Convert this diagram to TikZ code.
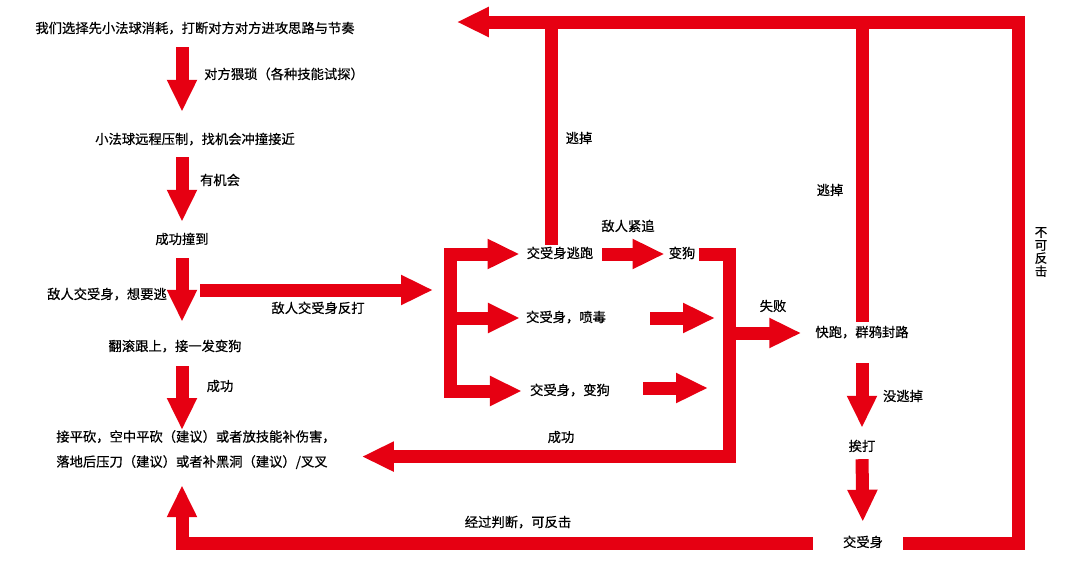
\documentclass[tikz,border=0pt]{standalone}
\usepackage{fontspec}
\setmainfont{Noto Sans CJK SC}[FakeBold=0.6]
\usetikzlibrary{arrows.meta}
\definecolor{flowred}{RGB}{230,0,18}

\begin{document}
\begin{tikzpicture}[x=1pt, y=-1pt, line join=miter,
    main node/.style={inner sep=0pt, font=\fontsize{13.3pt}{25pt}\selectfont, text height=10pt, text depth=2pt},
    block node/.style={inner sep=0pt, font=\fontsize{13.3pt}{25pt}\selectfont, align=left},
    fat line/.style={draw=flowred, line width=13pt},
    fat arrow/.style={fat line, -{Triangle[length=32pt,width=28pt]}}]

  \useasboundingbox (0,0) rectangle (1080,563);

  \node[main node] (1) at (195,29) {我们选择先小法球消耗，打断对方对方进攻思路与节奏};
  \node[main node] (2) at (195,140) {小法球远程压制，找机会冲撞接近};
  \node[main node] (3) at (182,240) {成功撞到};
  \node[main node] (4) at (107,295) {敌人交受身，想要逃};
  \node[main node] (5) at (175,347) {翻滚跟上，接一发变狗};
  \node[block node, anchor=north] (6) at (196,430) {接平砍，空中平砍（建议）或者放技能补伤害，\\落地后压刀（建议）或者补黑洞（建议）/叉叉};
  \node[main node] (7) at (560,254) {交受身逃跑};
  \node[main node] (8) at (566,318) {交受身，喷毒};
  \node[main node] (9) at (570,391) {交受身，变狗};
  \node[main node] (10) at (682,254) {变狗};
  \node[main node] (11) at (862,333) {快跑，群鸦封路};
  \node[main node] (12) at (862,447) {挨打};
  \node[main node] (13) at (863,543) {交受身};

  \coordinate (fork) at (450,290);
  \coordinate (join) at (729,333);
  \coordinate (corner) at (1018,22);

  % left column
  \draw[fat arrow, shorten <=12pt, shorten >=22pt] (3 |- 1.south) -- (3 |- 2.north);
  \draw[fat arrow, shorten <=11pt, shorten >=12pt] (3 |- 2.south) -- (3.north);
  \draw[fat arrow, shorten <=12pt, shorten >=19pt] (3.south) -- (3 |- 5.north);
  \draw[fat arrow, shorten <=13pt] (3 |- 5.south) -- (3 |- 6.north);
  \draw[fat arrow, shorten <=33pt, shorten >=17pt] (4.east |- fork) -- (fork);

  % fork
  \draw[fat line, line cap=rect] (fork |- 7) -- (fork |- 9);
  \draw[fat arrow, shorten >=7pt] (fork |- 7) -- (7.west);
  \draw[fat arrow, shorten >=6pt] (fork |- 8) -- (8.west);
  \draw[fat arrow, shorten >=8pt] (fork |- 9) -- (9.west);
  \draw[fat arrow, shorten <=9pt, shorten >=4pt] (7.east) -- (10.west);
  \draw[fat arrow, shorten <=44pt, shorten >=14pt] (8.east) -- (join |- 8);
  \draw[fat arrow, shorten <=33pt, shorten >=21pt] ([yshift=3pt]9.east) -- ([yshift=3pt]join |- 9);

  % join
  \draw[fat arrow, shorten <=3pt, shorten >=26pt] (10.east) -| ([yshift=-7pt]join |- 6.east) -- ([yshift=-7pt]6.east);
  \draw[fat arrow, shorten >=14pt] (join |- 11) -- (11.west);
  \draw[fat line, shorten <=5pt] (11.north) -- (11 |- corner);
  \draw[fat line, shorten <=3pt] ([xshift=-9pt]7.north) -- ([xshift=-9pt]7.north |- corner);

  % right column
  \draw[fat arrow, shorten <=24pt, shorten >=13pt] (11.south) -- (12.north);
  \draw[fat arrow, shorten <=6pt, shorten >=15pt] (12.south) -- (13.north);
  \draw[fat arrow, shorten >=102pt] ([xshift=20pt]13.east) -| (corner) -- (corner -| 1.east);
  \draw[fat arrow, shorten >=16pt] ([xshift=-30pt]13.west) -| (3 |- 6.south);

  % labels
  \node[main node] (e1) at (284,75) {对方猥琐（各种技能试探）};
  \node[main node] (e2) at (220,181) {有机会};
  \node[main node] (e3) at (318,309) {敌人交受身反打};
  \node[main node] (e4) at (220,387) {成功};
  \node[main node] (e5) at (628,227) {敌人紧追};
  \node[main node] (e6) at (773,307) {失败};
  \node[main node] (e7) at (561,438) {成功};
  \node[main node] (e8) at (579,139) {逃掉};
  \node[main node] (e9) at (830,191) {逃掉};
  \node[main node] (e10) at (903,397) {没逃掉};
  \node[inner sep=0pt, align=center, font=\fontsize{12.5pt}{13pt}\selectfont] (e11) at (1041,252) {不\\可\\反\\击};
  \node[main node] (e12) at (518,523) {经过判断，可反击};

\end{tikzpicture}
\end{document}
